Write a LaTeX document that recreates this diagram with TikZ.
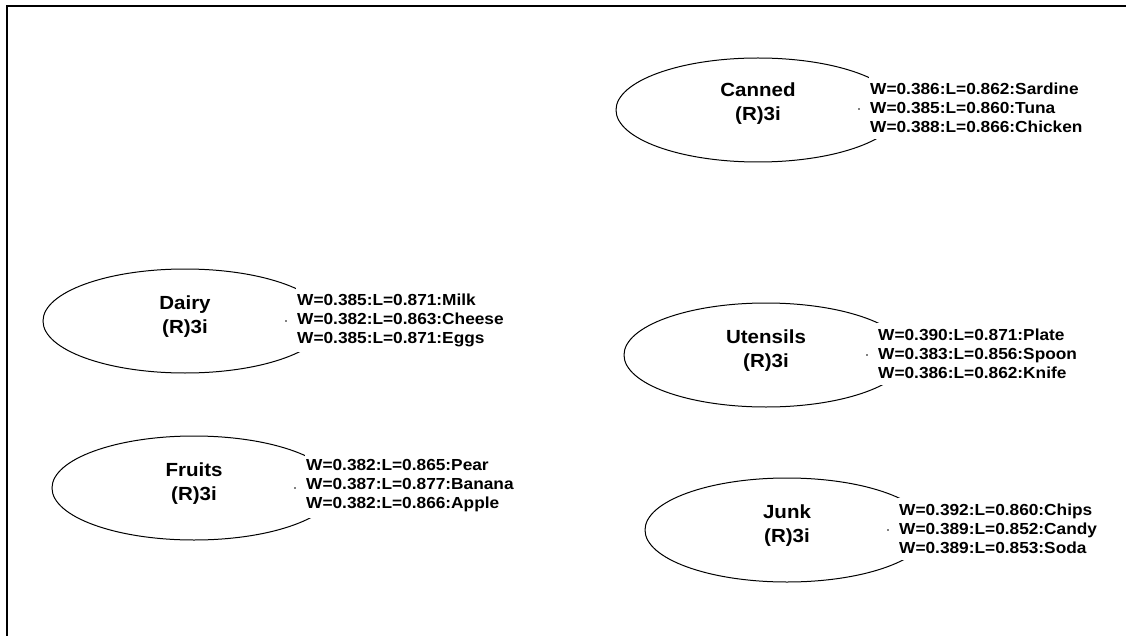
\documentclass[tikz,border=0pt]{standalone}
\usepackage{fontspec}
\setmainfont{Liberation Sans}
\newfontfamily\diagfont[FakeStretch=1.08]{Liberation Sans}
\usetikzlibrary{shapes.geometric}

\tikzset{
  grp/.style={ellipse, draw, line width=1pt, minimum width=284pt,
    minimum height=104pt, inner sep=0pt},
  title/.style={align=center, inner sep=0pt,
    font=\diagfont\bfseries\fontsize{19}{24}\selectfont},
  scores/.style={anchor=west, fill=white, align=left, inner xsep=1pt,
    inner ysep=6pt, font=\diagfont\bfseries\fontsize{16}{19}\selectfont},
  pin/.style={circle, fill, inner sep=0pt, minimum size=1.6pt},
  frame/.style={line width=2pt}
}

\begin{document}
\begin{tikzpicture}[x=1pt, y=-1pt]
  \useasboundingbox (0,0) rectangle (1126,636);

  % frame along the top and left edges
  \coordinate (frame-top) at (1126,6);
  \coordinate (frame-corner) at (7,6);
  \coordinate (frame-bottom) at (7,636);
  \draw[frame] (frame-top) -- (frame-corner) -- (frame-bottom);

  % groups
  \node[grp] (canned)   at (758,110) {};
  \node[grp] (dairy)    at (185,321) {};
  \node[grp] (utensils) at (766,355) {};
  \node[grp] (fruits)   at (194,488) {};
  \node[grp] (junk)     at (787,530) {};

  \node[title] (canned-title)   at (758,104) {Canned\\(R)3i};
  \node[title] (dairy-title)    at (185,317) {Dairy\\(R)3i};
  \node[title] (utensils-title) at (766,351) {Utensils\\(R)3i};
  \node[title] (fruits-title)   at (194,484) {Fruits\\(R)3i};
  \node[title] (junk-title)     at (787,526) {Junk\\(R)3i};

  % member scores
  \node[pin] (canned-pin) at (859,109) {};
  \node[scores] (canned-scores) at (869,108)
    {W=0.386:L=0.862:Sardine\\W=0.385:L=0.860:Tuna\\W=0.388:L=0.866:Chicken};

  \node[pin] (dairy-pin) at (286,321) {};
  \node[scores] (dairy-scores) at (296,320)
    {W=0.385:L=0.871:Milk\\W=0.382:L=0.863:Cheese\\W=0.385:L=0.871:Eggs};

  \node[pin] (utensils-pin) at (867,355) {};
  \node[scores] (utensils-scores) at (877,354)
    {W=0.390:L=0.871:Plate\\W=0.383:L=0.856:Spoon\\W=0.386:L=0.862:Knife};

  \node[pin] (fruits-pin) at (295,488) {};
  \node[scores] (fruits-scores) at (305,486)
    {W=0.382:L=0.865:Pear\\W=0.387:L=0.877:Banana\\W=0.382:L=0.866:Apple};

  \node[pin] (junk-pin) at (888,530) {};
  \node[scores] (junk-scores) at (898,529)
    {W=0.392:L=0.860:Chips\\W=0.389:L=0.852:Candy\\W=0.389:L=0.853:Soda};
\end{tikzpicture}
\end{document}
